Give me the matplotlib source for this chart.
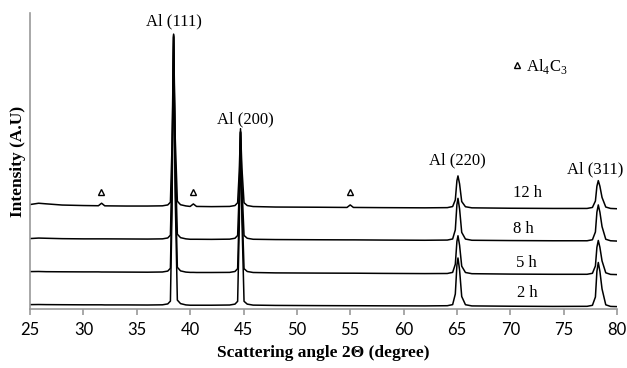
import matplotlib
matplotlib.use('Agg')
import matplotlib.pyplot as plt

# 2-theta sample points (degree)
two_theta = [25.0, 25.8, 26.5, 28, 30, 31.4, 31.7, 32.0, 34, 36,
             37.4, 37.9, 38.15, 38.3, 38.45, 38.6, 38.8, 39.1, 39.6, 40.0,
             40.3, 40.6, 42, 43.7, 44.2, 44.45, 44.6, 44.72, 44.85, 45.05,
             45.35, 45.9, 48, 52, 54.7, 55.0, 55.3, 58, 62, 64.1,
             64.6, 64.85, 65.0, 65.1, 65.25, 65.45, 65.8, 66.4, 70, 74,
             77.2, 77.7, 77.98, 78.12, 78.25, 78.4, 78.6, 78.95, 79.4, 80]

# stacked intensities (a.u., offset already included)
i_12h = [104.5, 105.8, 105.2, 104.0, 103.5, 103.3, 105.8, 103.2, 103.0, 103.0,
         103.2, 104.1, 106.8, 163.0, 274.8, 171.6, 107.8, 104.3, 103.1, 102.6,
         105.1, 102.6, 102.4, 102.6, 103.5, 106.3, 137.4, 180.3, 141.3, 106.3,
         103.5, 102.5, 102.0, 101.8, 101.6, 104.1, 101.6, 101.4, 101.2, 101.4,
         102.5, 109.1, 128.3, 133.1, 125.1, 107.5, 102.3, 101.2, 100.8, 100.6,
         100.6, 101.6, 108.0, 122.8, 128.4, 122.8, 111.6, 102.0, 100.6, 100.3]
i_8h = [70.5, 71.0, 70.8, 70.4, 70.2, 70.2, 70.2, 70.2, 70.1, 70.0,
        70.2, 71.1, 73.9, 140.9, 272.9, 151.1, 74.9, 71.4, 70.2, 69.8,
        69.8, 69.8, 69.7, 69.9, 70.8, 73.6, 118.2, 177.6, 123.6, 73.6,
        70.8, 69.8, 69.5, 69.3, 69.2, 69.2, 69.2, 69.0, 68.8, 69.0,
        70.1, 79.2, 104.4, 110.7, 100.2, 76.7, 70.0, 68.8, 68.5, 68.3,
        68.3, 69.3, 77.1, 96.9, 104.1, 96.9, 82.5, 69.8, 68.3, 68.0]
i_5h = [37.5, 37.6, 37.4, 37.3, 37.2, 37.2, 37.1, 37.1, 37.0, 36.9,
        37.1, 38.0, 40.8, 119.1, 271.8, 130.8, 41.8, 38.2, 37.0, 36.7,
        36.7, 36.6, 36.6, 36.7, 37.6, 40.4, 99.4, 176.4, 106.4, 40.4,
        37.6, 36.6, 36.2, 36.0, 35.9, 35.9, 35.9, 35.7, 35.5, 35.6,
        36.7, 44.8, 67.6, 73.3, 63.8, 42.9, 36.6, 35.4, 35.0, 34.8,
        34.8, 35.8, 43.1, 61.8, 68.6, 61.8, 48.2, 36.3, 34.7, 34.5]
i_2h = [4.5, 4.6, 4.5, 4.4, 4.3, 4.3, 4.3, 4.2, 4.2, 4.1,
        4.3, 5.2, 8.0, 98.5, 274.0, 112.0, 9.0, 5.5, 4.2, 3.9,
        3.9, 3.9, 3.9, 4.1, 5.0, 7.8, 81.7, 176.8, 90.3, 7.8,
        5.0, 4.0, 3.7, 3.5, 3.4, 3.4, 3.4, 3.3, 3.2, 3.4,
        4.5, 15.1, 43.9, 51.1, 39.1, 12.6, 4.4, 3.2, 2.9, 2.7,
        2.8, 3.8, 12.1, 37.8, 46.6, 37.8, 20.2, 4.3, 2.7, 2.5]

x_ticks = [25, 30, 35, 40, 45, 50, 55, 60, 65, 70, 75, 80]
peak_labels = ['Al (111)', 'Al (200)', 'Al (220)', 'Al (311)']
peak_label_pos = [(38.5, 287), (45.15, 190), (65.0, 149), (78.0, 140)]
time_labels = ['12 h', '8 h', '5 h', '2 h']
time_label_pos = [(71.6, 116), (71.2, 80), (71.5, 46), (71.6, 16)]
carbide_x = [31.6, 40.3, 55.0]
carbide_y = [117, 117, 117]

plt.rcParams['mathtext.fontset'] = 'custom'
plt.rcParams['mathtext.rm'] = 'Liberation Serif'

fig = plt.figure(figsize=(6.27, 3.68), dpi=100)
ax = fig.add_axes([0.048, 0.160, 0.936, 0.805])

for series in [i_2h, i_5h, i_8h, i_12h]:
    ax.plot(two_theta, series, color='black', lw=1.1)

for lab, (px, py) in zip(peak_labels, peak_label_pos):
    ax.text(px, py, lab, family='Liberation Serif', fontsize=12, ha='center', va='center')
for lab, (px, py) in zip(time_labels, time_label_pos):
    ax.text(px, py, lab, family='Liberation Serif', fontsize=12, ha='center', va='center')

ax.plot(carbide_x, carbide_y, ls='none', marker='^', ms=5, mfc='white', mec='black', mew=1)
ax.plot([70.6], [244], ls='none', marker='^', ms=5, mfc='white', mec='black', mew=1)
ax.text(71.5, 242, r'Al$_\mathregular{4}$C$_\mathregular{3}$', family='Liberation Serif',
        fontsize=12, ha='left', va='center')

ax.set_xlim(25, 80)
ax.set_ylim(0, 296)
ax.set_xticks(x_ticks)
ax.set_xticklabels([str(t) for t in x_ticks], fontfamily='Lato', fontsize=12)
ax.set_yticks([])
for s in ['top', 'right']:
    ax.spines[s].set_visible(False)
for s in ['left', 'bottom']:
    ax.spines[s].set_color('#9a9a9a')
    ax.spines[s].set_linewidth(1.2)
ax.tick_params(axis='x', direction='out', length=4, width=1.2, color='#9a9a9a', pad=5)

ax.set_xlabel('Scattering angle 2Θ (degree)', family='Liberation Serif',
              fontweight='bold', fontsize=12.5, labelpad=5)
ax.set_ylabel('Intensity (A.U)', family='Liberation Serif',
              fontweight='bold', fontsize=12.5, labelpad=3)

fig.savefig('out.png', dpi=100)
